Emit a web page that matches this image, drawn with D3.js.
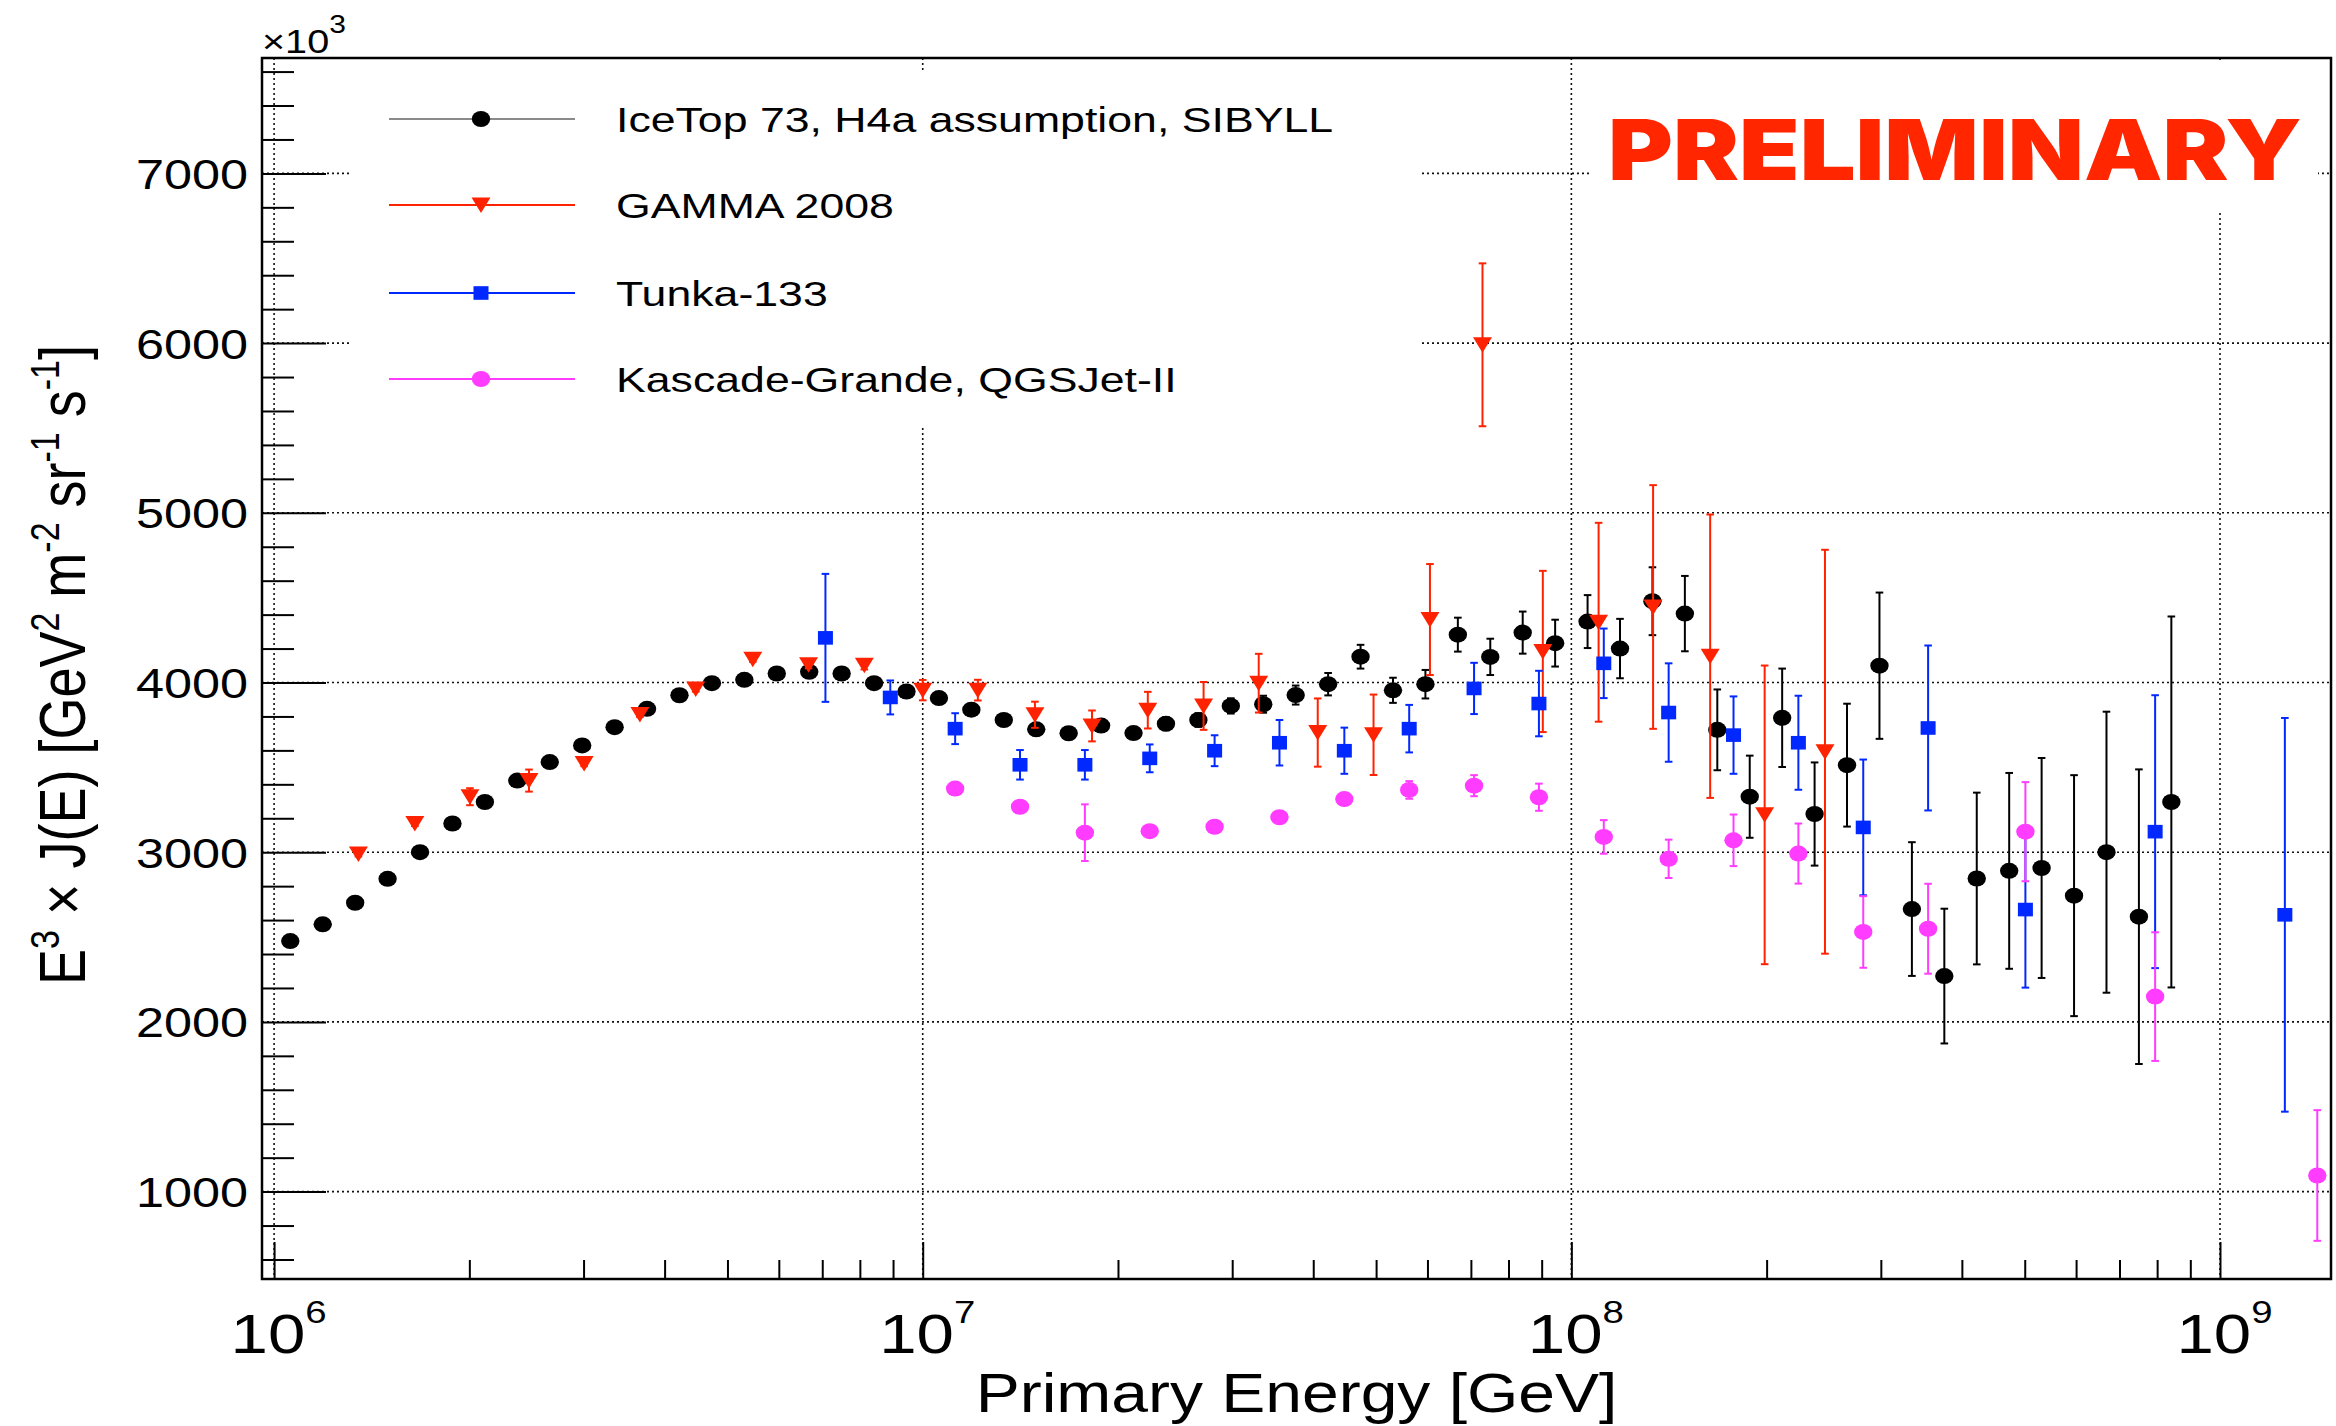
<!DOCTYPE html>
<html><head><meta charset="utf-8">
<script src="https://cdn.jsdelivr.net/npm/d3@7"></script>
<style>html,body{margin:0;padding:0;background:#fff;} svg{display:block;font-family:"Liberation Sans",Arial,Helvetica,sans-serif;}</style>
</head><body>
<svg id="chart" width="2336" height="1426"></svg>
<script>
// ---------------- data (log10 E/GeV, E^3 J(E) in units of 10^3, symmetric error) ----------------
const icetopLgE = [6.025,6.075,6.125,6.175,6.225,6.275,6.325,6.375,6.425,6.475,6.525,6.575,6.625,6.675,6.725,6.775,6.825,6.875,6.925,6.975,
  7.025,7.075,7.125,7.175,7.225,7.275,7.325,7.375,7.425,7.475,7.525,7.575,7.625,7.675,7.725,7.775,7.825,7.875,7.925,7.975,
  8.025,8.075,8.125,8.175,8.225,8.275,8.325,8.375,8.425,8.475,8.525,8.575,8.625,8.675,8.725,8.775,8.825,8.875,8.925];
const icetopVal = [2476,2575,2702,2843,3000,3169,3296,3422,3531,3629,3737,3845,3925,3996,4016,4053,4063,4053,3996,3947,
  3908,3840,3779,3724,3701,3746,3702,3757,3779,3862,3872,3926,3990,4152,3954,3990,4282,4151,4294,4232,
  4359,4200,4479,4406,3721,3327,3792,3225,3513,4099,2665,2270,2845,2890,2907,2744,3000,2620,3296];
const icetopErr = [30,30,30,30,30,30,30,30,30,30,30,30,30,30,30,30,30,30,30,30,
  35,35,35,35,35,35,35,38,40,45,50,56,66,70,74,84,100,107,124,138,
  156,175,200,222,238,242,290,304,362,431,394,397,506,577,648,710,828,868,1093];

const gammaLgE = [6.130,6.217,6.302,6.393,6.478,6.564,6.650,6.738,6.824,6.910,7.000,7.085,7.173,7.261,7.347,7.433,7.518,7.609,7.695,7.782,7.863,7.956,8.042,8.126,8.214,8.298,8.391];
const gammaVal = [2990,3169,3327,3422,3522,3812,3961,4137,4104,4102,3955,3955,3810,3744,3837,3862,3996,3705,3692,4371,5990,4183,4355,4445,4155,3220,3592];
const gammaErr = [15,15,50,65,15,15,15,15,20,25,60,61,77,91,108,141,173,201,237,327,480,475,586,718,835,880,1190];

const tunkaLgE = [6.85,6.95,7.05,7.15,7.25,7.35,7.45,7.55,7.65,7.75,7.85,7.95,8.05,8.15,8.25,8.35,8.45,8.55,8.70,8.90,9.10];
const tunkaVal = [4263,3912,3728,3515,3515,3553,3598,3645,3598,3728,3965,3876,4113,3823,3690,3645,3146,3732,2662,3121,2631];
const tunkaErr = [377,100,91,87,87,82,91,134,136,140,151,193,205,290,228,277,400,486,460,804,1160];

const kgLgE = [7.05,7.15,7.25,7.35,7.45,7.55,7.65,7.75,7.85,7.95,8.05,8.15,8.25,8.35,8.45,8.55,8.70,8.90,9.15];
const kgVal = [3375,3268,3115,3124,3150,3206,3313,3367,3392,3324,3090,2961,3070,2992,2530,2549,3121,2149,1095];
const kgErr = [25,25,167,25,25,25,25,52,62,80,99,113,152,177,211,265,292,379,385];

const seriesNames = ["IceTop 73, H4a assumption, SIBYLL","GAMMA 2008","Tunka-133","Kascade-Grande, QGSJet-II"];
const xTickExps = [6,7,8,9];
const yTickLabels = [1000,2000,3000,4000,5000,6000,7000];

// ---------------- layout ----------------
const L=262, R=2331, T=58, B=1279;
const TX = 1.2; // horizontal stretch of the original picture
const svg = d3.select('#chart');
const x = d3.scaleLog().domain([9.58e5, 1.483e9]).range([L, R]);
const y = d3.scaleLinear().domain([485, 7680]).range([B, T]);
const E = lg => Math.pow(10, lg);

const series = [
  {name:seriesNames[0], lg:icetopLgE, v:icetopVal, e:icetopErr, color:"#000000", line:"#8a8a8a", shape:"circle"},
  {name:seriesNames[1], lg:gammaLgE,  v:gammaVal,  e:gammaErr,  color:"#ff2200", line:"#ff2200", shape:"tri"},
  {name:seriesNames[2], lg:tunkaLgE,  v:tunkaVal,  e:tunkaErr,  color:"#0028ff", line:"#0028ff", shape:"square"},
  {name:seriesNames[3], lg:kgLgE,     v:kgVal,     e:kgErr,     color:"#ff3cff", line:"#ff3cff", shape:"circle"}
];

// ---------------- grid ----------------
const grid = svg.append('g').attr('stroke','#111').attr('stroke-width',1.6).attr('stroke-dasharray','2,3');
xTickExps.forEach(p => grid.append('line').attr('x1',x(E(p))).attr('x2',x(E(p))).attr('y1',T).attr('y2',B));
yTickLabels.forEach(v => grid.append('line').attr('x1',L).attr('x2',R).attr('y1',y(v)).attr('y2',y(v)));

// white boxes of legend and PRELIMINARY label
svg.append('rect').attr('x',350).attr('y',73).attr('width',1420-350).attr('height',428-73).attr('fill','#fff');
svg.append('rect').attr('x',1590).attr('y',T+2).attr('width',2318-1590).attr('height',213-T-2).attr('fill','#fff');

// ---------------- axes ticks ----------------
const yMinor = d3.range(600, 7680, 200).filter(v => v % 1000 !== 0);
const yMaj = svg.append('g').attr('transform',`translate(${L},0)`)
  .call(d3.axisLeft(y).tickValues(yTickLabels).tickSize(-64).tickFormat(''));
svg.append('g').attr('transform',`translate(${L},0)`)
  .call(d3.axisLeft(y).tickValues(yMinor).tickSize(-32).tickFormat(''));
const xMinor = [];
[5,6,7,8,9].forEach(p => { for (let k=2;k<=9;k++){ const v=k*Math.pow(10,p); if (v>9.58e5 && v<1.483e9) xMinor.push(v);} });
const xMaj = svg.append('g').attr('transform',`translate(0,${B})`)
  .call(d3.axisBottom(x).tickValues(xTickExps.map(E)).tickSize(-37).tickFormat(''));
svg.append('g').attr('transform',`translate(0,${B})`)
  .call(d3.axisBottom(x).tickValues(xMinor).tickSize(-19).tickFormat(''));
svg.selectAll('.domain').remove();
svg.selectAll('.tick line').attr('stroke','#000').attr('stroke-width',2);

// y tick labels
yMaj.selectAll('.tick').append('text')
  .attr('transform','translate(-14,15) scale(' + TX + ',1)')
  .attr('text-anchor','end').attr('fill','#000').attr('x',0).attr('dy',0)
  .style('font-size','42px').style('font-family','"Liberation Sans",Arial,sans-serif')
  .text(d => d);

// x tick labels 10^n
xMaj.selectAll('.tick').each(function(d,i){
  const t = d3.select(this).append('text')
    .attr('transform','translate(4,74) scale(' + TX + ',1)')
    .attr('text-anchor','middle').attr('fill','#000')
    .style('font-size','56px').style('font-family','"Liberation Sans",Arial,sans-serif');
  t.append('tspan').text('10');
  t.append('tspan').attr('dy',-30).style('font-size','32px').text(xTickExps[i]);
});

// frame
svg.append('rect').attr('x',L).attr('y',T).attr('width',R-L).attr('height',B-T)
  .attr('fill','none').attr('stroke','#000').attr('stroke-width',2.5);

// x10^3
const mult = svg.append('text').attr('transform',`translate(${L},53) scale(${TX},1)`).style('font-size','33px');
mult.append('tspan').text('\u00d710');
mult.append('tspan').attr('dy',-20).style('font-size','25px').text('3');

// axis titles
svg.append('text').attr('transform',`translate(${(L+R)/2},1412) scale(${TX},1)`)
  .attr('text-anchor','middle').style('font-size','55px').text('Primary Energy [GeV]');
const yt = svg.append('text').attr('transform',`translate(85,665) scale(${TX},1) rotate(-90)`)
  .attr('text-anchor','middle').style('font-size','54px');
const parts = [['E',0],['3',1],[' \u00d7 J(E) [GeV',0],['2',1],[' m',0],['-2',1],[' sr',0],['-1',1],[' s',0],['-1',1],[']',0]];
let prevSup = 0;
parts.forEach(([s,sup]) => {
  const ts = yt.append('tspan').text(s).style('font-size', sup ? '34px' : '54px');
  const dy = (sup ? -22 : 0) - (prevSup ? -22 : 0);
  if (dy !== 0) ts.attr('dy', dy);
  prevSup = sup;
});

// ---------------- markers ----------------
function drawMarker(g, shape, color, cx, cy) {
  if (shape === 'circle') g.append('ellipse').attr('cx',cx).attr('cy',cy).attr('rx',9.2).attr('ry',8).attr('fill',color);
  else if (shape === 'square') g.append('rect').attr('x',cx-7.5).attr('y',cy-6.8).attr('width',15).attr('height',13.6).attr('fill',color);
  else g.append('path').attr('d',`M${cx-9.5},${cy-7.5}L${cx+9.5},${cy-7.5}L${cx},${cy+8}Z`).attr('fill',color);
}

series.forEach(s => {
  const g = svg.append('g');
  s.lg.forEach((lg,i) => {
    const cx = x(E(lg)), v = s.v[i], e = s.e[i];
    const y1 = y(v+e), y2 = y(v-e);
    g.append('line').attr('x1',cx).attr('x2',cx).attr('y1',y1).attr('y2',y2).attr('stroke',s.color).attr('stroke-width',2);
    [y1,y2].forEach(yy => g.append('line').attr('x1',cx-3.8).attr('x2',cx+3.8).attr('y1',yy).attr('y2',yy).attr('stroke',s.color).attr('stroke-width',2));
    drawMarker(g, s.shape, s.color, cx, y(v));
  });
});

// ---------------- legend ----------------
const legRows = [119,205,293,379];
series.forEach((s,i) => {
  const g = svg.append('g');
  g.append('line').attr('x1',389).attr('x2',575).attr('y1',legRows[i]).attr('y2',legRows[i]).attr('stroke',s.line).attr('stroke-width',2);
  drawMarker(g, s.shape, s.color, 481, legRows[i]);
  g.append('text').attr('transform',`translate(616,${legRows[i]+13}) scale(1.24,1)`)
    .style('font-size','36px').attr('fill','#000').text(s.name);
});

// PRELIMINARY
svg.append('text').attr('x',1608).attr('y',180)
  .attr('textLength',694).attr('lengthAdjust','spacingAndGlyphs')
  .style('font-family','Inter,"Noto Sans","DejaVu Sans",sans-serif').style('font-weight',900)
  .style('font-size','84px').attr('fill','#ff2600').text('PRELIMINARY');
</script>
</body></html>
